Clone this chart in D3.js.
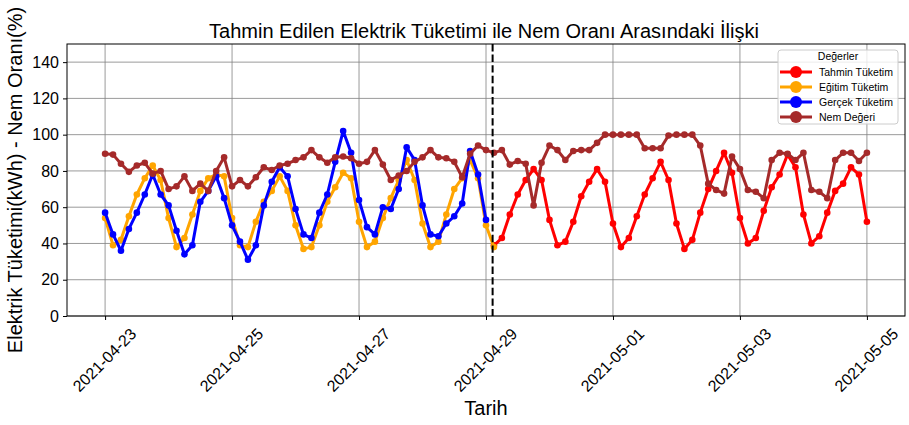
<!DOCTYPE html>
<html>
<head>
<meta charset="utf-8">
<script src="https://cdn.jsdelivr.net/npm/d3@7"></script>
<style>
  body { margin: 0; background: #fff; }
  svg { font-family: "Liberation Sans", Arial, sans-serif; }
</style>
</head>
<body>
<div id="chart"></div>
<script>
// 3-hourly readings starting 2021-04-23 00:00
const startTime = "2021-04-23T00:00:00Z";
const stepHours = 3;

// training fit (index 0..49)
const egitim = [54, 39, 42, 55, 67, 76, 83, 75, 54, 38, 43, 56, 69, 76, 78, 77,
  54, 39, 38, 52, 63, 69, 77, 69, 50, 37, 38, 50, 63, 71, 79, 76,
  52, 38, 41, 54, 65, 75, 86, 75, 51, 38, 41, 56, 70, 76, 86, 76, 50, 38];

// actual consumption (index 0..48)
const gercek = [57, 45, 36, 48, 57, 67, 78, 67, 61, 47, 34, 39, 63, 69, 77, 65,
  50, 41, 31, 39, 61, 74, 82, 77, 59, 45, 43, 57, 67, 85, 102, 90,
  64, 49, 45, 60, 59, 70, 93, 86, 61, 45, 44, 51, 55, 62, 91, 78, 53];

// forecast (index 49..96)
const tahminOffset = 49;
const tahmin = [39, 43, 56, 67, 75, 81, 75, 53, 39, 41, 52, 66, 74, 81, 74, 51,
  38, 43, 55, 67, 76, 85, 75, 51, 37, 42, 57, 70, 80, 90, 79, 54,
  40, 43, 58, 71, 78, 89, 82, 56, 40, 44, 57, 69, 73, 82, 78, 52];

// humidity (index 0..96)
const nem = [89.5, 89, 84, 79.5, 83, 84.5, 78.5, 80, 70, 71.5, 77, 69, 73, 69, 80, 87.5,
  71.5, 75, 71.5, 76.5, 82, 80.5, 83, 84, 86, 87.5, 91.5, 87.5, 84.5, 87.5, 88, 87,
  84, 85, 91.5, 83.5, 75, 77.5, 80, 85, 87.5, 91.5, 87.5, 87, 85, 76.5, 89.5, 94,
  91.5, 90, 91.5, 83.5, 85.5, 84, 61, 84.5, 94, 91.5, 86, 91, 91.5, 91.5, 95.5, 100,
  100, 100, 100, 100, 92.5, 92.5, 92.5, 99.5, 100, 100, 100, 94, 73, 69.5, 67.5, 88,
  81, 69.5, 68.5, 65, 86, 90, 89.5, 86, 90, 69.5, 68.5, 65, 86, 90, 90, 85.5, 90];

const splitTime = "2021-04-29T02:30:00Z";
const yTicks = [0, 20, 40, 60, 80, 100, 120, 140];
const xTickDates = ["2021-04-23", "2021-04-25", "2021-04-27", "2021-04-29",
  "2021-05-01", "2021-05-03", "2021-05-05"];

const seriesList = [
  { name: "Tahmin Tüketim", color: "red", values: tahmin, offset: tahminOffset },
  { name: "Eğitim Tüketim", color: "orange", values: egitim, offset: 0 },
  { name: "Gerçek Tüketim", color: "blue", values: gercek, offset: 0 },
  { name: "Nem Değeri", color: "brown", values: nem, offset: 0 }
];

const width = 909;
const height = 425;
const margin = { top: 44, right: 4, bottom: 109, left: 67 };
const t0 = new Date(startTime);
const timeAt = (i) => d3.utcHour.offset(t0, i * stepHours);

const tEnd = timeAt(nem.length - 1);
const span = tEnd - t0;
const x = d3.scaleUtc()
  .domain([new Date(+t0 - span * 0.05), new Date(+tEnd + span * 0.05)])
  .range([margin.left, width - margin.right]);
const y = d3.scaleLinear()
  .domain([0, 150])
  .range([height - margin.bottom, margin.top]);

const svg = d3.select("#chart")
  .append("svg")
  .attr("width", width)
  .attr("height", height);

const xTicks = xTickDates.map(d => new Date(d + "T00:00:00Z"));

// grid
svg.append("g")
  .selectAll("line.gx")
  .data(xTicks)
  .enter()
  .append("line")
  .attr("x1", d => x(d)).attr("x2", d => x(d))
  .attr("y1", margin.top).attr("y2", height - margin.bottom)
  .attr("stroke", "#808080").attr("stroke-width", 0.8);
svg.append("g")
  .selectAll("line.gy")
  .data(yTicks)
  .enter()
  .append("line")
  .attr("x1", margin.left).attr("x2", width - margin.right)
  .attr("y1", d => y(d)).attr("y2", d => y(d))
  .attr("stroke", "#808080").attr("stroke-width", 0.8);

// axes
const xAxis = svg.append("g")
  .attr("transform", `translate(0,${height - margin.bottom})`)
  .call(d3.axisBottom(x).tickValues(xTicks).tickSize(4).tickFormat(d3.utcFormat("%Y-%m-%d")));
xAxis.select(".domain").remove();
xAxis.selectAll("text")
  .attr("font-size", 16)
  .attr("fill", "#000")
  .attr("y", 0).attr("dy", null)
  .attr("text-anchor", "middle")
  .attr("dominant-baseline", "central")
  .attr("transform", "translate(-1,44) rotate(-45)");

const yAxis = svg.append("g")
  .attr("transform", `translate(${margin.left},0)`)
  .call(d3.axisLeft(y).tickValues(yTicks).tickSize(4).tickPadding(4));
yAxis.select(".domain").remove();
yAxis.selectAll("text").attr("font-size", 16).attr("fill", "#000");

// frame
svg.append("rect")
  .attr("x", margin.left).attr("y", margin.top)
  .attr("width", width - margin.right - margin.left)
  .attr("height", height - margin.bottom - margin.top)
  .attr("fill", "none").attr("stroke", "#000").attr("stroke-width", 1);

// series
const line = d3.line().x(d => x(d.t)).y(d => y(d.v));
seriesList.forEach(s => {
  const pts = s.values.map((v, i) => ({ t: timeAt(i + s.offset), v: v }));
  svg.append("path")
    .datum(pts)
    .attr("d", line)
    .attr("fill", "none")
    .attr("stroke", s.color)
    .attr("stroke-width", 3)
    .attr("stroke-linejoin", "round");
  svg.append("g")
    .selectAll("circle")
    .data(pts)
    .enter()
    .append("circle")
    .attr("cx", d => x(d.t))
    .attr("cy", d => y(d.v))
    .attr("r", 3.3)
    .attr("fill", s.color);
});

// split line
const sx = x(new Date(splitTime));
svg.append("line")
  .attr("x1", sx).attr("x2", sx)
  .attr("y1", margin.top).attr("y2", height - margin.bottom)
  .attr("stroke", "#000").attr("stroke-width", 2)
  .attr("stroke-dasharray", "7.4,3.2");

// title & labels
svg.append("text")
  .attr("x", 484)
  .attr("y", 38)
  .attr("text-anchor", "middle")
  .attr("font-size", 20)
  .text("Tahmin Edilen Elektrik Tüketimi ile Nem Oranı Arasındaki İlişki");
svg.append("text")
  .attr("x", (margin.left + width - margin.right) / 2)
  .attr("y", 415)
  .attr("text-anchor", "middle")
  .attr("font-size", 20)
  .text("Tarih");
svg.append("text")
  .attr("transform", `translate(22,${(margin.top + height - margin.bottom) / 2}) rotate(-90)`)
  .attr("text-anchor", "middle")
  .attr("font-size", 20)
  .text("Elektrik Tüketimi(kWh) - Nem Oranı(%)");

// legend
const lg = svg.append("g").attr("transform", "translate(778,50)");
lg.append("rect")
  .attr("width", 120).attr("height", 74)
  .attr("rx", 3)
  .attr("fill", "#fff").attr("fill-opacity", 0.8)
  .attr("stroke", "#ccc");
lg.append("text")
  .attr("x", 60).attr("y", 10)
  .attr("text-anchor", "middle")
  .attr("font-size", 10.5)
  .text("Değerler");
seriesList.forEach((s, i) => {
  const row = lg.append("g").attr("transform", `translate(0,${22 + i * 15})`);
  row.append("line")
    .attr("x1", 2).attr("x2", 34)
    .attr("stroke", s.color).attr("stroke-width", 3);
  row.append("circle").attr("cx", 18).attr("r", 6).attr("fill", s.color);
  row.append("text")
    .attr("x", 41).attr("y", 4)
    .attr("font-size", 10.5)
    .text(s.name);
});
</script>
</body>
</html>
